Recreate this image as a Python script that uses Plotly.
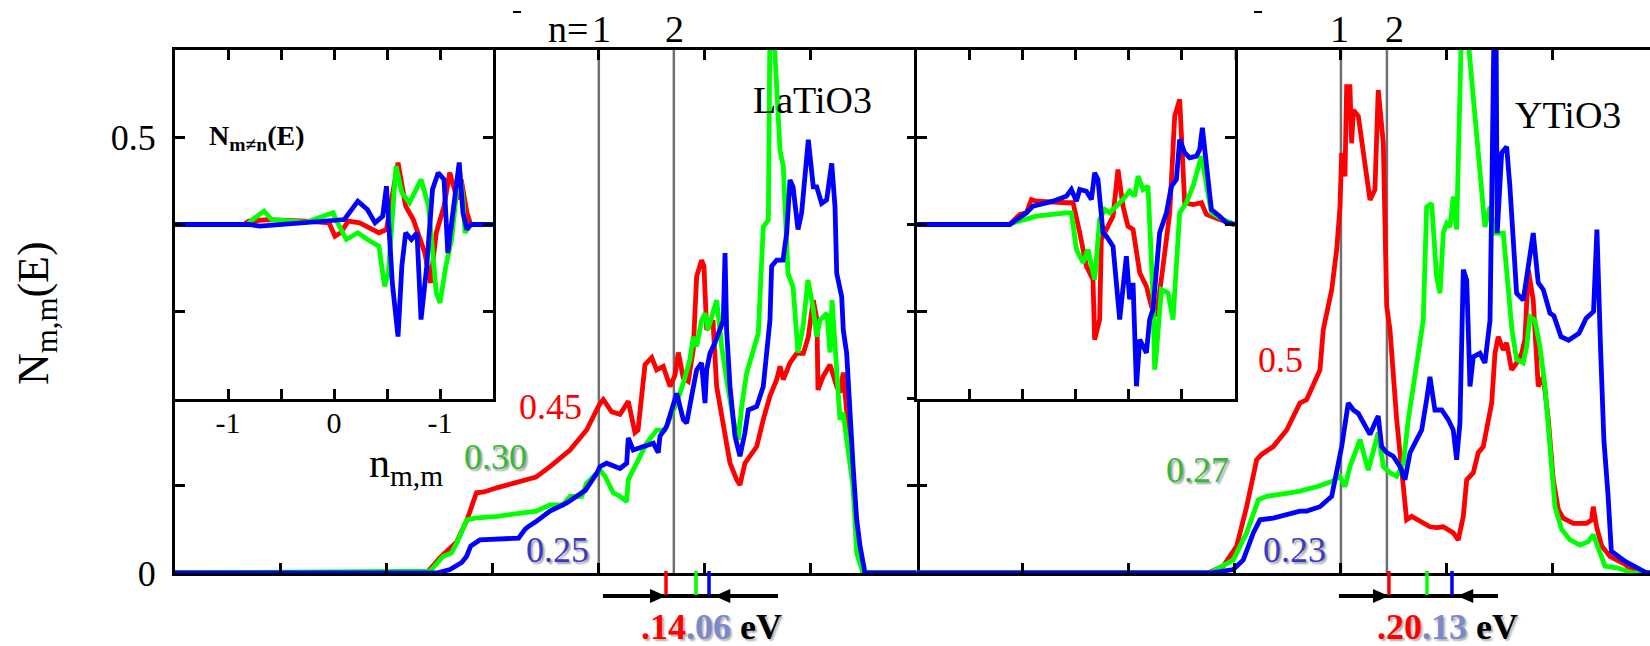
import plotly.graph_objects as go

# ---------------- data (energy in tick units, N in states) ----------------
# LaTiO3 panel: diagonal partial DOS N_mm(E) for the three orbitals
lat_red = [(-4, 0), (-1.625, 0), (-1.499, 0.0175), (-1.339, 0.036), (-1.244, 0.061), (-1.155, 0.092),
           (-1.084, 0.093), (-0.956, 0.098), (-0.593, 0.110), (-0.461, 0.122), (-0.272, 0.141),
           (-0.115, 0.164), (0.004, 0.193), (0.042, 0.199), (0.121, 0.185), (0.200, 0.182), (0.278, 0.197),
           (0.341, 0.161), (0.370, 0.164), (0.436, 0.239), (0.499, 0.247), (0.546, 0.233), (0.608, 0.237),
           (0.672, 0.214), (0.719, 0.227), (0.750, 0.253), (0.797, 0.224), (0.844, 0.220), (0.891, 0.256),
           (0.923, 0.340), (0.970, 0.359), (0.992, 0.352), (1.018, 0.279), (1.077, 0.290), (1.112, 0.214),
           (1.175, 0.172), (1.238, 0.126), (1.301, 0.107), (1.332, 0.101), (1.379, 0.126), (1.427, 0.134),
           (1.490, 0.145), (1.552, 0.176), (1.615, 0.203), (1.679, 0.222), (1.710, 0.237), (1.741, 0.222),
           (1.804, 0.241), (1.867, 0.252), (1.930, 0.252), (1.977, 0.271), (2.024, 0.313), (2.059, 0.290),
           (2.068, 0.210), (2.115, 0.225), (2.182, 0.239), (2.245, 0.214), (2.276, 0.207), (2.307, 0.230),
           (2.370, 0.138), (2.417, 0.069), (2.446, 0.038), (2.493, 0), (3, 0)]
lat_green = [(-4, 0), (-1.593, 0.002), (-1.471, 0.019), (-1.390, 0.023), (-1.339, 0.035), (-1.244, 0.061),
             (-1.173, 0.063), (-0.956, 0.065), (-0.593, 0.071), (-0.461, 0.078), (-0.342, 0.078),
             (-0.272, 0.088), (-0.162, 0.088), (-0.115, 0.103), (0.011, 0.118), (0.058, 0.111), (0.136, 0.092),
             (0.200, 0.088), (0.263, 0.082), (0.278, 0.107), (0.357, 0.126), (0.452, 0.149), (0.546, 0.164),
             (0.624, 0.164), (0.688, 0.183), (0.735, 0.195), (0.797, 0.218), (0.860, 0.245), (0.891, 0.271),
             (0.923, 0.260), (0.970, 0.290), (1.002, 0.298), (1.030, 0.279), (1.112, 0.313), (1.143, 0.279),
             (1.159, 0.260), (1.206, 0.222), (1.269, 0.176), (1.316, 0.153), (1.348, 0.191), (1.395, 0.229),
             (1.458, 0.256), (1.505, 0.275), (1.552, 0.397), (1.600, 0.405), (1.615, 0.63), (1.647, 0.63),
             (1.710, 0.485), (1.741, 0.466), (1.785, 0.344), (1.833, 0.328), (1.880, 0.253), (1.927, 0.282),
             (1.974, 0.336), (2.021, 0.305), (2.056, 0.271), (2.087, 0.290), (2.153, 0.298), (2.182, 0.253),
             (2.201, 0.313), (2.245, 0.233), (2.276, 0.176), (2.305, 0.184), (2.370, 0.118), (2.399, 0.099),
             (2.434, 0.023), (2.481, 0.004), (2.493, 0), (3, 0)]
lat_blue = [(-4, 0), (-1.530, 0), (-1.405, 0.004), (-1.294, 0.012), (-1.249, 0.019), (-1.209, 0.031),
            (-1.122, 0.038), (-0.838, 0.040), (-0.757, 0.040), (-0.697, 0.050), (-0.669, 0.053),
            (-0.593, 0.059), (-0.461, 0.071), (-0.306, 0.080), (-0.126, 0.095), (-0.017, 0.115), (0.011, 0.122),
            (0.074, 0.126), (0.200, 0.120), (0.263, 0.126), (0.278, 0.155), (0.325, 0.141), (0.452, 0.147),
            (0.514, 0.149), (0.561, 0.138), (0.577, 0.157), (0.640, 0.168), (0.703, 0.191), (0.735, 0.206),
            (0.797, 0.176), (0.829, 0.172), (0.876, 0.203), (0.923, 0.233), (0.970, 0.241), (1.002, 0.195),
            (1.018, 0.233), (1.049, 0.252), (1.096, 0.264), (1.143, 0.279), (1.175, 0.290), (1.191, 0.367),
            (1.206, 0.279), (1.238, 0.214), (1.285, 0.157), (1.332, 0.134), (1.379, 0.161), (1.411, 0.187),
            (1.490, 0.191), (1.552, 0.214), (1.584, 0.252), (1.615, 0.290), (1.631, 0.352), (1.679, 0.359),
            (1.738, 0.359), (1.773, 0.390), (1.804, 0.451), (1.833, 0.443), (1.880, 0.394), (1.914, 0.413),
            (1.977, 0.497), (2.024, 0.443), (2.056, 0.443), (2.103, 0.424), (2.150, 0.428), (2.198, 0.470),
            (2.229, 0.420), (2.245, 0.344), (2.292, 0.317), (2.307, 0.279), (2.339, 0.252), (2.370, 0.176),
            (2.402, 0.118), (2.434, 0.061), (2.465, 0.031), (2.512, 0), (3, 0)]

# YTiO3 panel
yti_red = [(-4, 0), (-1.248, 0), (-1.106, 0.008), (-0.980, 0.031), (-0.886, 0.076), (-0.791, 0.130),
           (-0.744, 0.136), (-0.635, 0.145), (-0.508, 0.164), (-0.477, 0.172), (-0.383, 0.195),
           (-0.319, 0.199), (-0.194, 0.233), (-0.163, 0.279), (-0.083, 0.325), (-0.036, 0.371),
           (-0.005, 0.420), (0.011, 0.482), (0.042, 0.455), (0.058, 0.558), (0.089, 0.558), (0.105, 0.493),
           (0.121, 0.531), (0.168, 0.524), (0.215, 0.482), (0.278, 0.428), (0.325, 0.440), (0.356, 0.554),
           (0.404, 0.493), (0.436, 0.306), (0.467, 0.279), (0.530, 0.176), (0.593, 0.099), (0.624, 0.061),
           (0.672, 0.065), (0.781, 0.057), (0.844, 0.053), (0.907, 0.052), (0.970, 0.053), (1.064, 0.046),
           (1.111, 0.038), (1.159, 0.065), (1.191, 0.107), (1.253, 0.115), (1.300, 0.138), (1.347, 0.145),
           (1.395, 0.176), (1.427, 0.195), (1.458, 0.252), (1.489, 0.271), (1.536, 0.256), (1.568, 0.264),
           (1.615, 0.233), (1.662, 0.241), (1.710, 0.252), (1.741, 0.268), (1.772, 0.348), (1.819, 0.313),
           (1.866, 0.214), (1.914, 0.225), (1.961, 0.176), (2.008, 0.107), (2.055, 0.073), (2.102, 0.063),
           (2.197, 0.057), (2.323, 0.057), (2.370, 0.061), (2.385, 0.076), (2.417, 0.053), (2.465, 0.031),
           (2.543, 0.019), (2.669, 0.011), (2.795, 0), (2.921, 0)]
yti_green = [(-4, 0), (-1.232, 0), (-1.012, 0.015), (-0.886, 0.046), (-0.776, 0.084), (-0.697, 0.088),
             (-0.477, 0.092), (-0.383, 0.094), (-0.225, 0.099), (-0.083, 0.105), (-0.005, 0.111),
             (0.042, 0.099), (0.089, 0.122), (0.184, 0.153), (0.262, 0.118), (0.309, 0.138), (0.356, 0.161),
             (0.404, 0.122), (0.467, 0.115), (0.530, 0.111), (0.593, 0.126), (0.640, 0.176), (0.687, 0.214),
             (0.734, 0.252), (0.781, 0.290), (0.813, 0.420), (0.860, 0.424), (0.907, 0.340), (0.939, 0.321),
             (0.970, 0.390), (1.002, 0.401), (1.033, 0.397), (1.064, 0.432), (1.096, 0.394), (1.127, 0.566),
             (1.143, 0.63), (1.191, 0.63), (1.238, 0.569), (1.285, 0.505), (1.332, 0.447), (1.363, 0.397),
             (1.411, 0.420), (1.458, 0.390), (1.536, 0.390), (1.580, 0.325), (1.618, 0.279), (1.662, 0.245),
             (1.725, 0.241), (1.757, 0.260), (1.788, 0.294), (1.835, 0.290), (1.882, 0.260), (1.930, 0.214),
             (1.977, 0.145), (2.024, 0.076), (2.087, 0.050), (2.166, 0.038), (2.260, 0.032), (2.338, 0.036),
             (2.385, 0.044), (2.433, 0.027), (2.496, 0.008), (2.606, 0.006), (2.763, 0), (2.921, 0)]
yti_blue = [(-4, 0), (-1.232, 0), (-1.012, 0.004), (-0.918, 0.015), (-0.823, 0.046), (-0.760, 0.061),
            (-0.635, 0.063), (-0.508, 0.067), (-0.383, 0.071), (-0.319, 0.071), (-0.194, 0.076),
            (-0.083, 0.088), (-0.036, 0.115), (0.011, 0.145), (0.073, 0.195), (0.121, 0.187), (0.168, 0.183),
            (0.231, 0.168), (0.278, 0.159), (0.325, 0.172), (0.356, 0.180), (0.388, 0.145), (0.436, 0.138),
            (0.498, 0.134), (0.561, 0.122), (0.608, 0.107), (0.656, 0.138), (0.719, 0.153), (0.766, 0.164),
            (0.813, 0.199), (0.844, 0.225), (0.891, 0.187), (0.955, 0.187), (1.017, 0.176), (1.064, 0.164),
            (1.096, 0.130), (1.127, 0.172), (1.159, 0.348), (1.191, 0.336), (1.206, 0.279), (1.222, 0.214),
            (1.253, 0.248), (1.316, 0.252), (1.363, 0.241), (1.411, 0.290), (1.427, 0.428), (1.449, 0.63),
            (1.468, 0.63), (1.479, 0.390), (1.521, 0.482), (1.568, 0.489), (1.599, 0.443), (1.662, 0.321),
            (1.725, 0.313), (1.772, 0.356), (1.819, 0.390), (1.866, 0.333), (1.914, 0.325), (1.977, 0.298),
            (2.014, 0.295), (2.081, 0.271), (2.152, 0.267), (2.251, 0.275), (2.317, 0.292), (2.388, 0.300),
            (2.420, 0.394), (2.455, 0.255), (2.486, 0.152), (2.524, 0.091), (2.556, 0.025), (2.691, 0.013),
            (2.826, 0.005), (2.892, 0), (2.921, 0)]

# insets: off-diagonal N_{m != n}(E)
ins_lat_red = [(-1.5, 0), (-0.85, 0), (-0.804, 0.038), (-0.623, 0.057), (-0.264, 0.038), (-0.047, 0.019),
               (0.009, -0.134), (0.062, -0.095), (0.135, 0.038), (0.242, 0.019), (0.424, -0.095),
               (0.495, -0.057), (0.604, 0.708), (0.676, 0.210), (0.748, 0.057), (0.857, -0.325),
               (0.910, -0.669), (0.965, -0.095), (1.038, 0.210), (1.092, 0.594), (1.163, 0.287),
               (1.200, 0.516), (1.254, 0.134), (1.290, 0), (1.5, 0)]
ins_lat_green = [(-1.5, 0), (-0.82, 0), (-0.768, 0.057), (-0.660, 0.153), (-0.588, 0.057), (-0.264, 0.026),
                 (-0.009, 0.134), (0.026, 0.038), (0.116, -0.172), (0.225, -0.095), (0.315, -0.172),
                 (0.424, -0.249), (0.477, -0.708), (0.513, -0.555), (0.585, 0.669), (0.640, 0.364),
                 (0.712, 0.249), (0.821, 0.516), (0.892, 0.210), (0.965, -0.783), (1.000, -0.898),
                 (1.055, -0.478), (1.109, -0.172), (1.181, 0.650), (1.217, 0.287), (1.236, -0.095),
                 (1.272, -0.019), (1.30, 0), (1.5, 0)]
ins_lat_blue = [(-1.5, 0), (-0.80, 0), (-0.698, -0.019), (-0.047, 0.038), (0.098, 0.057), (0.225, 0.267),
                (0.315, 0.172), (0.387, 0.019), (0.459, 0.095), (0.495, 0.439), (0.550, -0.669),
                (0.604, -1.284), (0.640, -0.478), (0.676, -0.095), (0.730, -0.172), (0.783, -0.095),
                (0.821, -1.089), (0.875, -0.478), (0.929, 0.401), (0.983, 0.593), (1.038, 0.516),
                (1.074, -0.325), (1.127, 0.210), (1.181, 0.711), (1.217, 0.134), (1.254, -0.057),
                (1.290, 0), (1.5, 0)]
ins_yti_red = [(-1.5, 0), (-0.623, 0), (-0.528, 0.115), (-0.465, 0.134), (-0.418, 0.287), (-0.371, 0.267),
               (-0.088, 0.249), (-0.025, 0.249), (0.038, -0.095), (0.101, -0.478), (0.163, -0.631),
               (0.179, -1.319), (0.226, -1.089), (0.242, -0.172), (0.305, -0.019), (0.352, 0.095),
               (0.399, 0.631), (0.446, 0.210), (0.493, -0.019), (0.541, -0.057), (0.604, -0.554),
               (0.667, -0.708), (0.714, -0.937), (0.761, -1.052), (0.824, -0.478), (0.887, 0.134),
               (0.934, 1.242), (0.981, 1.433), (1.028, 0.249), (1.107, 0.229), (1.186, 0.249),
               (1.233, 0.115), (1.358, 0.057), (1.484, 0), (1.5, 0)]
ins_yti_green = [(-1.5, 0), (-0.62, 0), (-0.592, 0.019), (-0.465, 0.057), (-0.371, 0.095), (-0.088, 0.134),
                 (-0.041, 0.134), (0.007, -0.287), (0.069, -0.439), (0.116, -0.287), (0.179, -0.631),
                 (0.226, 0.057), (0.274, 0.172), (0.321, 0.134), (0.384, 0.210), (0.446, 0.287),
                 (0.509, 0.382), (0.557, 0.325), (0.588, 0.554), (0.635, 0.401), (0.682, 0.439),
                 (0.729, -0.822), (0.745, -1.663), (0.761, -1.471), (0.808, -0.745), (0.871, -0.784),
                 (0.918, -1.089), (0.981, 0.134), (1.044, 0.249), (1.107, 0.439), (1.186, 0.784),
                 (1.233, 0.439), (1.280, 0.134), (1.390, 0.057), (1.5, 0)]
ins_yti_blue = [(-1.5, 0), (-0.623, 0), (-0.465, 0.134), (-0.403, 0.210), (-0.214, 0.267), (-0.088, 0.325),
                (-0.041, 0.401), (0.007, 0.267), (0.038, 0.401), (0.101, 0.381), (0.148, 0.287),
                (0.179, 0.593), (0.210, 0.516), (0.258, -0.095), (0.290, -0.134), (0.352, -0.249),
                (0.415, -1.089), (0.478, -0.364), (0.509, -0.858), (0.541, -0.669), (0.573, -1.854),
                (0.604, -1.319), (0.667, -1.471), (0.698, -1.089), (0.729, -0.975), (0.792, -0.095),
                (0.856, 0.134), (0.903, 0.439), (0.950, 0.516), (0.981, 0.975), (1.028, 0.822),
                (1.075, 0.765), (1.139, 0.784), (1.170, 0.860), (1.195, 1.109), (1.233, 0.669),
                (1.280, 0.172), (1.358, 0.095), (1.422, 0.019), (1.5, 0)]

panel_names = ["LaTiO3", "YTiO3"]
occ_lat = ["0.45", "0.30", "0.25"]
occ_yti = ["0.5", "0.27", "0.23"]
n_lines_lat = [0.0, 0.708]
n_lines_yti = [0.004, 0.438]
gap_marks_lat = [0.634, 0.917, 1.040]
gap_marks_yti = [0.457, 0.816, 1.052]
arrow_span_lat = [0.039, 1.691]
arrow_span_yti = [-0.015, 1.486]
gap_text_lat = [".14", ".06"]
gap_text_yti = [".20", ".13"]
main_yticks = [0, 0.1, 0.2, 0.3, 0.4, 0.5, 0.6]
main_yticktext = ["0", "", "", "", "", "0.5", ""]
main_xticks = [-4, -3, -2, -1, 0, 1, 2, 3]
inset_xticks = [-1, -0.5, 0, 0.5, 1]
inset_xticktext = ["-1", "", "0", "", "-1"]
inset_yticks = [-1, 0, 1]

# ---------------- styling ----------------
RED, GREEN, BLUE = "#ff0000", "#00ff00", "#0000ff"
FONT = "Liberation Serif, Times New Roman, serif"
W, H = 1650, 646
ML, MT, MB = 175, 50, 73
PW, PH = W - ML, H - MT - MB
SPLIT = 741.7 / PW
INSET_W = 318 / PW
INSET_B = (573 - 399) / PH


def px(x, y):
    return (x - ML) / PW, (H - MB - y) / PH


fig = go.Figure()
sets = [
    ([lat_red, lat_green, lat_blue], "x", "y"),
    ([yti_red, yti_green, yti_blue], "x2", "y2"),
    ([ins_lat_red, ins_lat_green, ins_lat_blue], "x3", "y3"),
    ([ins_yti_red, ins_yti_green, ins_yti_blue], "x4", "y4"),
]
for curves, xa, ya in sets:
    for pts, col in zip(curves, [RED, GREEN, BLUE]):
        fig.add_trace(go.Scatter(x=[p[0] for p in pts], y=[p[1] for p in pts], mode="lines",
                                 line=dict(color=col, width=4.8), xaxis=xa, yaxis=ya,
                                 showlegend=False, hoverinfo="skip"))

ax_common = dict(showgrid=False, zeroline=False, linecolor="black", linewidth=3,
                 ticks="inside", tickcolor="black", tickwidth=2.5, ticklen=10)
tickfont = dict(family=FONT, size=36, color="black")

fig.update_layout(
    width=W, height=H, margin=dict(l=ML, r=0, t=MT, b=MB),
    paper_bgcolor="white", plot_bgcolor="white", showlegend=False,
    font=dict(family=FONT, color="black"),
    xaxis=dict(domain=[0, SPLIT], range=[-4, 3], tickvals=main_xticks, showticklabels=False,
               mirror="ticks", anchor="y", showline=True, **ax_common),
    yaxis=dict(domain=[0, 1], range=[0, 0.6], tickvals=main_yticks, ticktext=main_yticktext,
               tickfont=tickfont, mirror="ticks", anchor="x", ticklabelstandoff=9, showline=True,
               **ax_common),
    xaxis2=dict(domain=[SPLIT, 1], range=[-4, 2.921], tickvals=main_xticks, showticklabels=False,
                mirror="ticks", anchor="y2", showline=True, **ax_common),
    yaxis2=dict(domain=[0, 1], range=[0, 0.6], tickvals=main_yticks, showticklabels=False,
                mirror=False, anchor="x2", showline=False, **ax_common),
    xaxis3=dict(domain=[0, INSET_W], range=[-1.5, 1.5], tickvals=inset_xticks, ticktext=inset_xticktext,
                tickfont=dict(family=FONT, size=30, color="black"), mirror="ticks", anchor="y3",
                ticklabelstandoff=-5, showline=True, **ax_common),
    yaxis3=dict(domain=[INSET_B, 1], range=[-2, 2], tickvals=inset_yticks, showticklabels=False,
                mirror="ticks", anchor="x3", showline=True, **ax_common),
    xaxis4=dict(domain=[SPLIT, SPLIT + INSET_W], range=[-1.5, 1.5], tickvals=inset_xticks,
                showticklabels=False, mirror="ticks", anchor="y4", showline=True, **ax_common),
    yaxis4=dict(domain=[INSET_B, 1], range=[-2, 2], tickvals=inset_yticks, showticklabels=False,
                mirror="ticks", anchor="x4", showline=True, **ax_common),
)

shapes = []
ARROW_Y = -23 / PH
TICK_Y0, TICK_Y1 = 2 / PH, -22 / PH
HEAD_L = 16 / 105.96
HEAD_H = 7 / PH
for xa, ya, nl, marks, span in [("x", "y", n_lines_lat, gap_marks_lat, arrow_span_lat),
                                ("x2", "y2", n_lines_yti, gap_marks_yti, arrow_span_yti)]:
    for e in nl:
        shapes.append(dict(type="line", xref=xa, yref=ya, x0=e, x1=e, y0=0, y1=0.6,
                           line=dict(color="#707070", width=2.5), layer="below"))
    shapes.append(dict(type="line", xref=xa, yref="paper", x0=span[0], x1=span[1], y0=ARROW_Y, y1=ARROW_Y,
                       line=dict(color="black", width=4)))
    tip_r = marks[0]
    tip_l = marks[2] + 0.05
    shapes.append(dict(type="path", xref=xa, yref="paper", fillcolor="black", line=dict(width=0),
                       path=f"M {tip_r - HEAD_L},{ARROW_Y + HEAD_H} L {tip_r},{ARROW_Y} L {tip_r - HEAD_L},{ARROW_Y - HEAD_H} Z"))
    shapes.append(dict(type="path", xref=xa, yref="paper", fillcolor="black", line=dict(width=0),
                       path=f"M {tip_l + HEAD_L},{ARROW_Y + HEAD_H} L {tip_l},{ARROW_Y} L {tip_l + HEAD_L},{ARROW_Y - HEAD_H} Z"))
    for m, col in zip(marks, [RED, GREEN, BLUE]):
        shapes.append(dict(type="line", xref=xa, yref="paper", x0=m, x1=m, y0=TICK_Y0, y1=TICK_Y1,
                           line=dict(color=col, width=3.5)))
# small stray marks at the top
for xp in (517, 1258):
    a, b = px(xp - 4, 12)
    c, _ = px(xp + 4, 12)
    shapes.append(dict(type="line", xref="paper", yref="paper", x0=a, x1=c, y0=b, y1=b,
                       line=dict(color="black", width=2)))
fig.update_layout(shapes=shapes)

ann = []


def text(s, x, y, size=38, color="black", xanchor="center", shadow=None, angle=0):
    xp, yp = px(x, y)
    f = dict(family=FONT, size=size, color=color)
    if shadow:
        f["shadow"] = shadow
    ann.append(dict(text=s, x=xp, y=yp, xref="paper", yref="paper", showarrow=False,
                    xanchor=xanchor, yanchor="middle", font=f, textangle=angle))


SH = "2px 2px 2px #a0a0a0"
text("n=", 590, 29, xanchor="right")
text("1", 601, 29)
text("2", 674, 29)
text("1", 1339, 29)
text("2", 1394, 29)
text(panel_names[0], 812, 100)
text(panel_names[1], 1568, 115)
text(occ_lat[0], 550, 407, size=36, color="#ff0000")
text(occ_lat[1], 495, 457, size=36, color="#33bb33", shadow=SH)
text(occ_lat[2], 557, 550, size=36, color="#3a3ac8", shadow=SH)
text(occ_yti[0], 1280, 360, size=36, color="#ff0000")
text(occ_yti[1], 1197, 470, size=36, color="#33bb33", shadow=SH)
text(occ_yti[2], 1294, 550, size=36, color="#3a3ac8", shadow=SH)
text("<b>N<sub>m≠n</sub>(E)</b>", 207, 138, size=28, xanchor="left")
text("n<sub>m,m</sub>", 367, 466, size=42, xanchor="left")
text("N<sub>m,m</sub>(E)", 36, 313, size=44, angle=-90)
for g, cx in [(gap_text_lat, 711), (gap_text_yti, 1447)]:
    s = (f'<b><span style="color:#ff0000">{g[0]}</span>'
         f'<span style="color:#7c88cc">{g[1]}</span> eV</b>')
    text(s, cx, 627, size=36, shadow="2px 2px 2px #b0b0b0")
fig.update_layout(annotations=ann)

fig.write_html("out.html")
